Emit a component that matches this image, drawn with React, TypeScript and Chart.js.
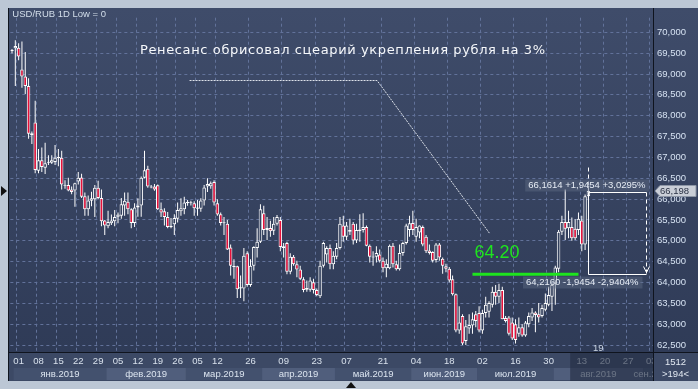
import React, { useEffect, useRef } from 'react';
import { Chart, registerables } from 'chart.js';

Chart.register(...registerables);

const FONT = '"Liberation Sans", Arial, sans-serif';

// ---- candle data (USD/RUB daily) ----
const openP = [
  69.55, 69.62, 69.63, 69.11, 68.94, 68.71, 67.58, 67.84, 66.68, 66.93,
  66.75, 66.87, 66.87, 66.89, 66.98, 66.99, 66.34, 66.34, 66.23, 66.21,
  66.42, 66.52, 66.07, 65.76, 65.96, 66.0, 66.27, 66.03, 65.49, 65.35,
  65.42, 65.47, 65.58, 65.6, 65.85, 65.94, 65.76, 65.43, 65.8, 65.85,
  66.51, 66.73, 66.3, 66.3, 66.33, 65.76, 65.71, 65.57, 65.33, 65.4,
  65.53, 65.71, 65.76, 65.9, 65.92, 65.9, 65.77, 65.77, 65.97, 66.3,
  66.31, 66.41, 65.9, 65.64, 65.44, 65.41, 64.84, 64.4, 64.39, 63.86,
  63.86, 64.7, 63.94, 64.4, 64.83, 64.98, 65.66, 65.26, 65.31, 65.24,
  65.41, 65.5, 64.87, 64.95, 64.26, 64.62, 64.44, 64.31, 64.08, 63.87,
  63.83, 64.01, 63.82, 63.67, 64.4, 64.67, 64.83, 64.44, 64.62, 64.83,
  65.37, 65.1, 65.26, 65.41, 65.01, 65.23, 65.26, 65.33, 64.88, 64.62,
  64.62, 64.67, 64.52, 64.34, 64.34, 64.88, 64.44, 64.32, 64.71, 64.95,
  65.26, 65.43, 65.1, 65.2, 65.33, 65.1, 64.77, 64.73, 64.54, 64.91,
  64.57, 64.39, 64.33, 64.08, 63.72, 62.85, 63.2, 62.6, 62.9, 62.97,
  63.24, 63.27, 62.85, 63.27, 63.3, 63.47, 63.78, 63.66, 63.82, 63.15,
  63.16, 63.04, 63.0, 62.77, 62.93, 62.73, 63.0, 63.16, 63.28, 63.24,
  63.2, 63.35, 63.47, 63.66, 63.97, 64.33, 65.22, 65.45, 65.3, 65.33,
  65.29, 65.26, 65.49, 64.91, 66.07,
];
const highP = [
  69.6, 69.81, 69.74, 69.78, 69.53, 68.9, 67.62, 68.36, 67.2, 67.24,
  67.35, 67.05, 67.05, 67.3, 67.2, 67.16, 66.45, 66.51, 66.3, 66.39,
  66.65, 66.61, 66.16, 66.09, 66.18, 66.34, 66.44, 66.23, 65.5, 65.72,
  65.63, 65.74, 65.68, 66.03, 66.16, 66.16, 65.78, 65.9, 66.02, 66.54,
  67.16, 66.8, 66.34, 66.36, 66.35, 65.92, 65.78, 65.69, 65.55, 65.64,
  65.92, 66.02, 66.06, 65.98, 65.96, 65.95, 65.98, 66.02, 66.34, 66.5,
  66.42, 66.45, 66.0, 65.68, 65.57, 65.5, 64.91, 64.56, 64.4, 64.17,
  64.83, 64.75, 64.56, 64.87, 65.3, 65.88, 65.84, 65.57, 65.48, 65.57,
  65.62, 65.57, 64.95, 64.98, 64.7, 64.66, 64.52, 64.4, 64.13, 64.05,
  64.13, 64.09, 63.86, 64.52, 64.98, 64.87, 64.91, 64.75, 64.95, 65.57,
  65.6, 65.45, 65.53, 65.45, 65.41, 65.64, 65.66, 65.37, 64.91, 64.75,
  64.87, 64.79, 64.6, 64.56, 64.91, 64.95, 64.52, 64.91, 64.98, 65.41,
  65.6, 65.72, 65.53, 65.37, 65.37, 65.14, 64.91, 64.75, 64.95, 64.95,
  64.6, 64.45, 64.37, 64.17, 63.74, 63.43, 63.24, 63.1, 63.24, 63.28,
  63.32, 63.43, 63.35, 63.66, 63.55, 63.9, 63.94, 63.97, 63.9, 63.2,
  63.2, 63.16, 63.12, 63.16, 63.0, 63.08, 63.28, 63.39, 63.31, 63.51,
  63.47, 63.74, 63.9, 64.01, 64.4, 65.26, 65.6, 66.23, 65.72, 65.56,
  65.52, 65.68, 65.6, 66.11, 66.3,
];
const lowP = [
  69.5, 68.71, 69.33, 68.67, 68.52, 67.45, 67.32, 66.62, 66.62, 66.65,
  66.6, 66.82, 66.84, 66.82, 66.79, 66.23, 66.25, 66.19, 66.12, 65.82,
  66.35, 66.03, 65.6, 65.6, 65.83, 65.57, 66.0, 65.35, 65.14, 65.3,
  65.38, 65.35, 65.42, 65.53, 65.6, 65.64, 65.3, 65.33, 65.58, 65.58,
  66.5, 66.27, 66.26, 66.2, 65.74, 65.57, 65.37, 65.3, 65.3, 65.14,
  65.44, 65.6, 65.64, 65.84, 65.85, 65.6, 65.6, 65.7, 65.85, 66.17,
  66.25, 65.85, 65.6, 65.37, 65.14, 64.78, 64.17, 64.09, 63.63, 63.63,
  63.55, 63.9, 63.9, 64.29, 64.6, 64.95, 65.14, 65.02, 65.1, 65.14,
  65.37, 64.75, 64.6, 64.2, 64.2, 64.4, 64.13, 64.06, 63.77, 63.78,
  63.78, 63.74, 63.67, 63.63, 64.36, 64.48, 64.32, 64.32, 64.56, 64.79,
  64.98, 65.02, 65.14, 64.91, 64.95, 64.98, 65.2, 64.87, 64.48, 64.4,
  64.48, 64.48, 64.25, 64.13, 64.32, 64.36, 64.29, 64.29, 64.64, 64.91,
  65.1, 65.14, 64.98, 65.06, 64.87, 64.71, 64.67, 64.48, 64.48, 64.52,
  64.21, 64.25, 64.01, 63.69, 62.81, 62.77, 62.5, 62.5, 62.77, 62.77,
  62.93, 62.81, 62.77, 63.16, 63.16, 63.4, 63.47, 63.51, 63.12, 63.04,
  62.73, 62.62, 62.54, 62.7, 62.7, 62.7, 62.93, 63.08, 62.81, 63.04,
  63.16, 63.31, 63.43, 63.32, 63.47, 64.25, 65.14, 65.02, 65.06, 65.0,
  65.02, 65.14, 64.75, 64.78, 66.0,
];
const closeP = [
  69.57, 69.67, 69.42, 68.94, 68.71, 67.57, 67.53, 66.7, 66.93, 66.77,
  66.86, 66.89, 66.93, 66.99, 67.01, 66.35, 66.32, 66.21, 66.17, 66.38,
  66.51, 66.06, 65.76, 65.97, 66.02, 66.27, 66.03, 65.47, 65.37, 65.45,
  65.49, 65.57, 65.63, 65.88, 65.96, 65.76, 65.43, 65.8, 65.85, 66.51,
  66.69, 66.3, 66.28, 66.23, 65.76, 65.68, 65.57, 65.33, 65.36, 65.55,
  65.74, 65.78, 65.92, 65.93, 65.9, 65.78, 65.8, 65.97, 66.28, 66.36,
  66.38, 65.92, 65.63, 65.43, 65.42, 64.79, 64.4, 64.37, 63.84, 63.89,
  64.64, 63.94, 64.4, 64.85, 64.98, 65.76, 65.26, 65.31, 65.23, 65.41,
  65.57, 64.85, 64.83, 64.26, 64.62, 64.44, 64.31, 64.09, 63.82, 63.83,
  64.05, 63.82, 63.7, 64.4, 64.95, 64.83, 64.44, 64.64, 64.83, 65.41,
  65.1, 65.37, 65.22, 65.01, 65.26, 65.27, 65.33, 64.88, 64.62, 64.6,
  64.71, 64.52, 64.34, 64.45, 64.88, 64.44, 64.32, 64.71, 64.95, 65.37,
  65.42, 65.26, 65.33, 65.37, 64.91, 64.75, 64.71, 64.52, 64.91, 64.6,
  64.4, 64.33, 64.05, 63.72, 62.85, 63.04, 62.54, 62.95, 62.98, 63.12,
  63.08, 62.85, 63.27, 63.47, 63.51, 63.78, 63.66, 63.82, 63.12, 63.08,
  62.77, 62.66, 62.62, 62.93, 62.73, 63.04, 63.2, 63.28, 63.22, 63.16,
  63.39, 63.51, 63.7, 63.94, 64.36, 65.22, 65.45, 65.29, 65.45, 65.06,
  65.06, 65.53, 64.91, 66.07, 66.198,
];

// ---- axis content ----
const SLOT_COUNT = 194;
const slotLabels = Array.from({ length: SLOT_COUNT }, (_, i) => String(i));
const dateTickIdx = [2, 8, 14, 20, 26, 32, 38, 44, 50, 56, 62, 72, 82, 92, 101, 112, 122, 132, 142, 152, 162, 172, 179, 186, 193];
const dateTickText = ['01', '08', '15', '22', '29', '05', '12', '19', '26', '05', '12', '26', '09', '23', '07', '21', '04', '18', '02', '16', '30', '13', '20', '27', '03'];
const monthNames = ['янв.2019', 'фев.2019', 'мар.2019', 'апр.2019', 'май.2019', 'июн.2019', 'июл.2019', 'авг.2019', 'сен.2019'];
const monthStartIdx = [1, 29, 53, 76, 98, 121, 141, 164, 191];
const yTickValues = [62.5, 63, 63.5, 64, 64.5, 65, 65.5, 66, 66.5, 67, 67.5, 68, 68.5, 69, 69.5, 70];
const Y_MIN = 62.335;
const Y_MAX = 70.35;

// ---- annotations ----
const headerText = 'USD/RUB 1D Low = 0';
const titleText = 'Ренесанс обрисовал сцеарий укрепления рубля на 3%';
const pointerPath = [[53.6, 68.86], [110.2, 68.86], [144.2, 65.2]];
const supportLevel = 64.2;
const supportFromIdx = 139;
const supportToIdx = 171;
const measureFromIdx = 174;
const measureToIdx = 191.4;
const measureHigh = 66.1614;
const measureLow = 64.216;
const lastPrice = 66.198;
const dimFromIdx = 169;
const gapMarkerIdx = 177;
const gapMarkerText = '19';
const barsTotalText = '1512';

const fmt = (v: number, d: number) => v.toFixed(d).replace('.', ',');

const tickTextByIdx: Record<number, string> = {};
dateTickIdx.forEach((ix, k) => { tickTextByIdx[ix] = dateTickText[k]; });

const UP_FILL = '#34415e';
const DOWN_FILL = '#e8103a';

const decorPlugin = {
  id: 'decor',
  beforeDraw(chart: any) {
    const { ctx, chartArea: ca, width, height } = chart;
    const xs = chart.scales.x;
    const slot = xs.getPixelForValue(1) - xs.getPixelForValue(0);
    ctx.save();
    const g = ctx.createLinearGradient(0, 0, 0, ca.bottom);
    g.addColorStop(0, '#3f4c6a');
    g.addColorStop(1, '#2f3b57');
    ctx.fillStyle = g;
    ctx.fillRect(0, 0, width, ca.bottom);
    ctx.fillStyle = '#3c4965';
    ctx.fillRect(0, ca.bottom, width, height - ca.bottom);
    const bandTop = ca.bottom + 16;
    const bandH = height - bandTop - 1;
    monthStartIdx.forEach((s, i) => {
      const x0 = xs.getPixelForValue(s) - slot / 2;
      const x1 = i + 1 < monthStartIdx.length ? xs.getPixelForValue(monthStartIdx[i + 1]) - slot / 2 : ca.right;
      ctx.fillStyle = i % 2 === 0 ? '#43516e' : '#505e7c';
      ctx.fillRect(x0, bandTop, Math.min(x1, ca.right) - x0, bandH);
    });
    ctx.restore();
  },
  afterDatasetsDraw(chart: any) {
    const { ctx, chartArea: ca } = chart;
    const xs = chart.scales.x;
    const ys = chart.scales.y;
    const px = (i: number) => xs.getPixelForValue(i);
    const py = (v: number) => ys.getPixelForValue(v);
    ctx.save();

    // header
    ctx.font = `9.5px ${FONT}`;
    ctx.fillStyle = '#d3deea';
    ctx.textAlign = 'left';
    ctx.textBaseline = 'middle';
    ctx.fillText(headerText, ca.left + 2, 6);

    // pointer dotted line
    ctx.strokeStyle = '#dde2ea';
    ctx.lineWidth = 1;
    ctx.setLineDash([2, 1]);
    ctx.beginPath();
    pointerPath.forEach(([i, v], k) => {
      const x = px(i);
      const y = Math.round(py(v)) + 0.5;
      if (k === 0) ctx.moveTo(x, y); else ctx.lineTo(x, y);
    });
    ctx.stroke();
    ctx.setLineDash([]);

    // title
    ctx.font = '13px "DejaVu Sans", sans-serif';
    ctx.fillStyle = '#f6f8fb';
    const targetW = 405;
    const w0 = ctx.measureText(titleText).width;
    if ('letterSpacing' in ctx) {
      (ctx as any).letterSpacing = `${Math.max(0, (targetW - w0) / (titleText.length - 1))}px`;
    }
    ctx.textAlign = 'left';
    ctx.fillText(titleText, 132, 43);
    if ('letterSpacing' in ctx) (ctx as any).letterSpacing = '0px';

    // support line
    ctx.strokeStyle = '#1ee41e';
    ctx.lineWidth = 3;
    ctx.beginPath();
    ctx.moveTo(px(supportFromIdx), py(supportLevel));
    ctx.lineTo(px(supportToIdx), py(supportLevel));
    ctx.stroke();
    ctx.font = `18px ${FONT}`;
    ctx.fillStyle = '#1ee41e';
    ctx.textBaseline = 'alphabetic';
    ctx.fillText(supportLevel.toFixed(2), px(supportFromIdx) + 2, py(supportLevel) - 16);

    // measurement box
    const x0 = Math.round(px(measureFromIdx)) + 0.5;
    const x1 = Math.round(px(measureToIdx)) + 0.5;
    const yT = Math.round(py(measureHigh)) + 0.5;
    const yB = Math.round(py(measureLow)) + 0.5;
    ctx.strokeStyle = '#ffffff';
    ctx.lineWidth = 1;
    ctx.beginPath();
    ctx.moveTo(x1, yT); ctx.lineTo(x0, yT); ctx.lineTo(x0, yB); ctx.lineTo(x1, yB);
    ctx.stroke();
    ctx.setLineDash([4, 3]);
    ctx.beginPath();
    ctx.moveTo(x1, yT); ctx.lineTo(x1, yB - 1);
    ctx.moveTo(x0, yT); ctx.lineTo(x0, Math.round(py(66.8)) + 0.5);
    ctx.stroke();
    ctx.setLineDash([]);
    ctx.beginPath();
    ctx.moveTo(x1 - 3, yB - 8); ctx.lineTo(x1, yB - 2); ctx.lineTo(x1 + 3, yB - 8);
    ctx.stroke();

    const diff = measureHigh - measureLow;
    const upText = `${fmt(measureHigh, 4)} +${fmt(diff, 4)} +${fmt((diff / measureLow) * 100, 4)}%`;
    const dnText = `${fmt(measureLow, 4)} -${fmt(diff, 4)} -${fmt((diff / measureHigh) * 100, 4)}%`;
    ctx.font = `9.5px ${FONT}`;
    ctx.textBaseline = 'middle';
    ctx.textAlign = 'right';
    const drawLabel = (t: string, right: number, cy: number) => {
      const w = ctx.measureText(t).width;
      ctx.fillStyle = 'rgba(95,108,132,0.45)';
      ctx.fillRect(right - w - 3, cy - 6, w + 7, 12);
      ctx.fillStyle = '#e6ecf4';
      ctx.fillText(t, right, cy);
    };
    drawLabel(upText, x1 - 1, yT - 7);
    drawLabel(dnText, x1 - 8, yB + 8);

    // gap marker
    ctx.font = `9.5px ${FONT}`;
    ctx.textAlign = 'center';
    ctx.fillStyle = '#cbd5e3';
    ctx.fillText(gapMarkerText, px(gapMarkerIdx), ca.bottom - 4);

    ctx.restore();
  },
  afterDraw(chart: any) {
    const { ctx, chartArea: ca, width, height } = chart;
    const xs = chart.scales.x;
    const ys = chart.scales.y;
    const slot = xs.getPixelForValue(1) - xs.getPixelForValue(0);
    ctx.save();

    // month labels
    const bandTop = ca.bottom + 16;
    ctx.save();
    ctx.beginPath();
    ctx.rect(0, ca.bottom, ca.right, height - ca.bottom);
    ctx.clip();
    ctx.font = `9.5px ${FONT}`;
    ctx.fillStyle = '#dbe4ef';
    ctx.textAlign = 'center';
    ctx.textBaseline = 'middle';
    monthStartIdx.forEach((s, i) => {
      const a = xs.getPixelForValue(s) - slot / 2;
      const b = i + 1 < monthStartIdx.length ? xs.getPixelForValue(monthStartIdx[i + 1]) - slot / 2 : ca.right + 10;
      ctx.fillText(monthNames[i], (a + Math.min(b, ca.right + 10)) / 2, bandTop + 6);
    });
    ctx.restore();

    // dim future section of the time axis
    const dx = xs.getPixelForValue(dimFromIdx) - slot / 2;
    ctx.fillStyle = 'rgba(36,45,66,0.62)';
    ctx.fillRect(dx, ca.bottom, ca.right - dx, height - ca.bottom);

    // bottom-right panel
    ctx.fillStyle = '#3c4965';
    ctx.fillRect(ca.right, ca.bottom, width - ca.right, height - ca.bottom);
    ctx.font = `9.5px ${FONT}`;
    ctx.fillStyle = '#e2e9f2';
    ctx.textAlign = 'center';
    ctx.textBaseline = 'middle';
    const cx = (ca.right + width) / 2;
    ctx.fillText(barsTotalText, cx, ca.bottom + 10);
    ctx.fillText(`>${SLOT_COUNT}<`, cx, ca.bottom + 22);

    // borders
    ctx.strokeStyle = '#0f141e';
    ctx.lineWidth = 1;
    ctx.beginPath();
    ctx.moveTo(Math.round(ca.right) + 0.5, 0); ctx.lineTo(Math.round(ca.right) + 0.5, height);
    ctx.moveTo(0, Math.round(ca.bottom) + 0.5); ctx.lineTo(width, Math.round(ca.bottom) + 0.5);
    ctx.moveTo(0.5, 0); ctx.lineTo(0.5, height);
    ctx.stroke();

    // last price tag
    const ty = Math.round(ys.getPixelForValue(lastPrice));
    const tl = ca.right + 2;
    ctx.beginPath();
    ctx.moveTo(tl, ty);
    ctx.lineTo(tl + 5, ty - 5.5);
    ctx.lineTo(width - 2, ty - 5.5);
    ctx.lineTo(width - 2, ty + 5.5);
    ctx.lineTo(tl + 5, ty + 5.5);
    ctx.closePath();
    ctx.fillStyle = '#c9ced7';
    ctx.fill();
    ctx.strokeStyle = '#8d96a6';
    ctx.stroke();
    ctx.fillStyle = '#2a3245';
    ctx.textAlign = 'left';
    ctx.fillText(fmt(lastPrice, 3), tl + 5, ty + 0.5);

    ctx.restore();
  },
};

export default function App() {
  const ref = useRef<HTMLCanvasElement>(null);
  useEffect(() => {
    if (!ref.current) return;
    const bodyData = openP.map((o, i) => [o, closeP[i]]);
    const wickData = lowP.map((l, i) => [l, highP[i]]);
    const bodyColors = openP.map((o, i) => (closeP[i] >= o ? UP_FILL : DOWN_FILL));
    const gridColor = '#62729a';
    const chart = new Chart(ref.current, {
      type: 'bar',
      data: {
        labels: slotLabels,
        datasets: [
          {
            label: 'body',
            data: bodyData as any,
            backgroundColor: bodyColors,
            borderColor: '#ffffff',
            borderWidth: 1,
            borderSkipped: false,
            barThickness: 3.5,
            minBarLength: 1,
            grouped: false,
            inflateAmount: 0,
          } as any,
          {
            label: 'wick',
            data: wickData as any,
            backgroundColor: '#ffffff',
            borderWidth: 0,
            barThickness: 1,
            grouped: false,
            inflateAmount: 0,
          } as any,
        ],
      },
      options: {
        animation: false,
        responsive: false,
        maintainAspectRatio: false,
        events: [],
        layout: { padding: 0 },
        plugins: { legend: { display: false }, tooltip: { enabled: false } },
        scales: {
          x: {
            type: 'category',
            offset: true,
            grid: {
              drawTicks: false,
              drawOnChartArea: true,
              color: (c: any) => (tickTextByIdx[c.index] !== undefined ? gridColor : 'rgba(0,0,0,0)'),
            },
            border: { display: false, dash: [3, 3] },
            ticks: {
              autoSkip: false,
              maxRotation: 0,
              minRotation: 0,
              padding: 4,
              color: '#d8e1ec',
              font: { family: FONT, size: 9.5 },
              callback: (_v: any, i: number) => tickTextByIdx[i] ?? '',
            },
            afterFit: (s: any) => { s.height = 29; },
          },
          y: {
            type: 'linear',
            position: 'right',
            min: Y_MIN,
            max: Y_MAX,
            grid: { drawTicks: false, color: gridColor },
            border: { display: false, dash: [3, 3] },
            afterBuildTicks: (s: any) => { s.ticks = yTickValues.map((v) => ({ value: v })); },
            ticks: {
              autoSkip: false,
              padding: 4,
              color: '#d6e2f2',
              font: { family: FONT, size: 9.5 },
              callback: (v: any) => fmt(Number(v), 3),
            },
            afterFit: (s: any) => { s.width = 45; },
          },
        },
      } as any,
      plugins: [decorPlugin],
    });
    return () => chart.destroy();
  }, []);

  return (
    <div style={{ position: 'absolute', left: 0, top: 0, width: 698, height: 389, background: '#bcc7d5', overflow: 'hidden' }}>
      <canvas ref={ref} width={690} height={373} style={{ position: 'absolute', left: 8, top: 8, width: 690, height: 373 }} />
      <div style={{ position: 'absolute', left: 1, top: 186, width: 0, height: 0, borderTop: '5px solid transparent', borderBottom: '5px solid transparent', borderLeft: '6px solid #111' }} />
      <div style={{ position: 'absolute', left: 346, top: 382, width: 0, height: 0, borderLeft: '5px solid transparent', borderRight: '5px solid transparent', borderBottom: '6px solid #111' }} />
    </div>
  );
}
